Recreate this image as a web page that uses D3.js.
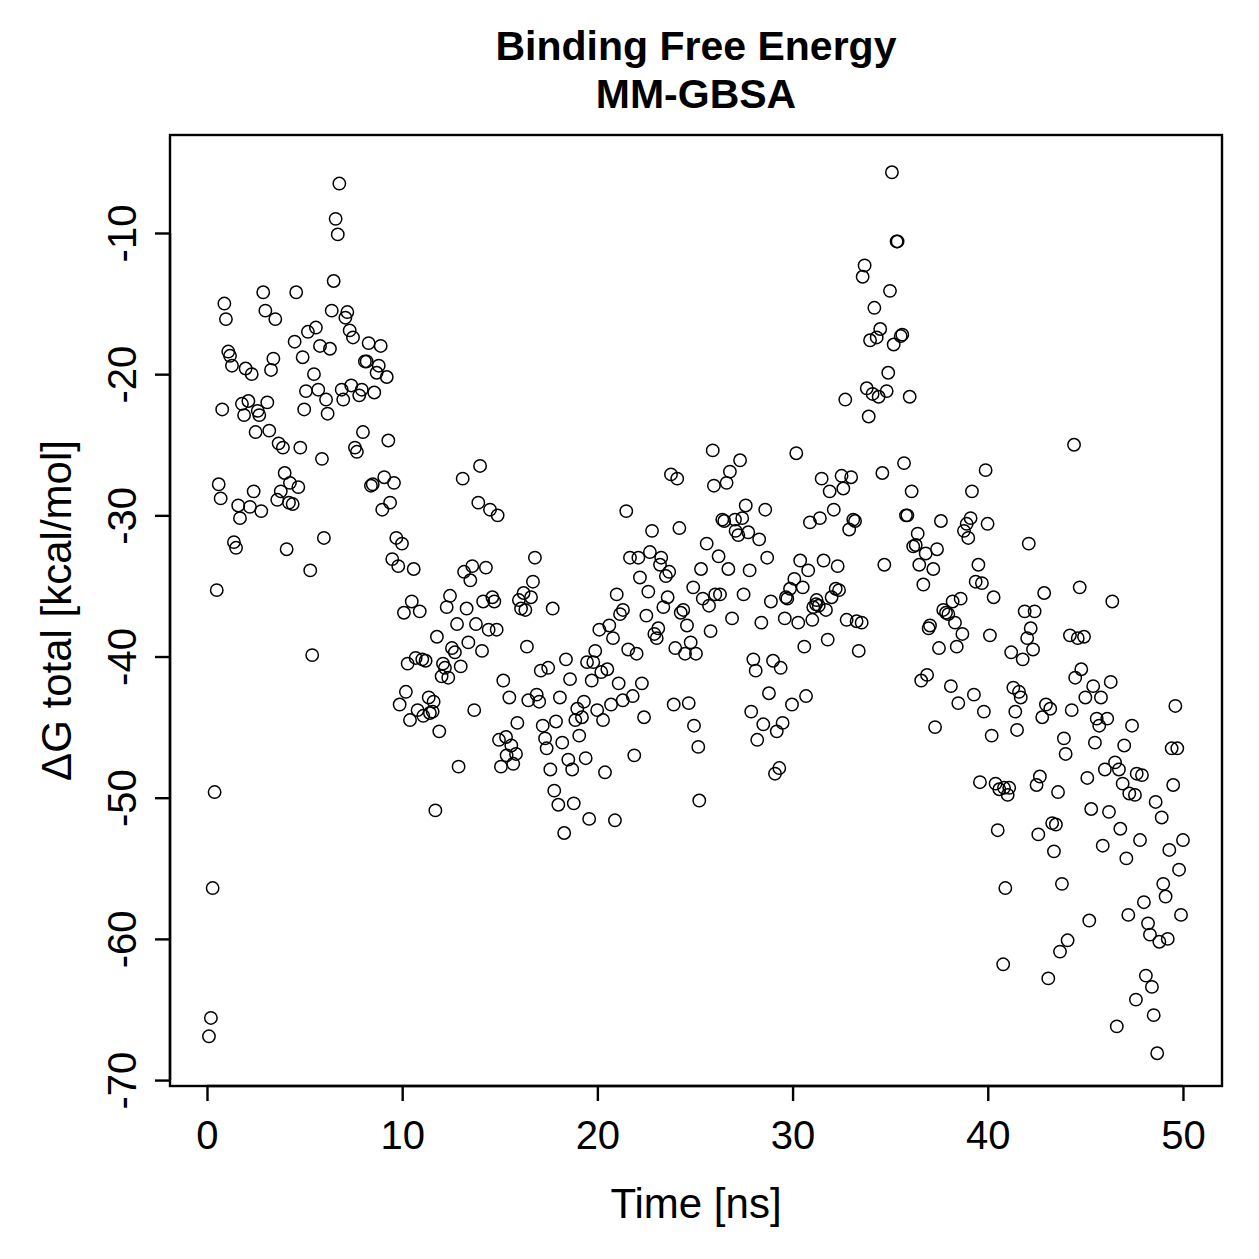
<!DOCTYPE html>
<html><head><meta charset="utf-8">
<script src="https://cdn.jsdelivr.net/npm/d3@7"></script>
<style>body{margin:0;background:#fff} svg{display:block} text{font-family:"Liberation Sans",Arial,Helvetica,sans-serif;fill:#000}</style>
</head><body><svg id="c" width="1259" height="1259"></svg>
<script>
const time = [0.10,0.20,0.29,0.39,0.50,0.60,0.70,0.78,0.89,0.97,1.09,1.18,1.28,1.38,1.49,1.60,1.69,1.79,1.90,1.98,2.12,2.20,2.29,2.39,2.49,2.60,2.68,2.78,2.88,2.99,3.09,3.19,3.28,3.40,3.50,3.60,3.67,3.78,3.89,3.98,4.08,4.20,4.25,4.39,4.49,4.57,4.68,4.78,4.90,4.98,5.07,5.17,5.29,5.39,5.48,5.58,5.70,5.79,5.89,5.99,6.10,6.18,6.30,6.39,6.49,6.59,6.70,6.78,6.90,6.98,7.09,7.19,7.31,7.39,7.48,7.58,7.68,7.80,7.93,7.99,8.09,8.18,8.28,8.40,8.49,8.57,8.69,8.80,8.90,8.98,9.08,9.21,9.29,9.38,9.49,9.58,9.70,9.80,9.87,9.99,10.09,10.19,10.28,10.40,10.49,10.59,10.69,10.79,10.90,11.03,11.08,11.20,11.36,11.42,11.56,11.61,11.70,11.78,11.90,12.02,12.09,12.19,12.28,12.36,12.45,12.55,12.70,12.81,12.89,13.00,13.10,13.17,13.30,13.39,13.49,13.59,13.69,13.78,13.90,13.99,14.09,14.15,14.29,14.43,14.50,14.62,14.72,14.84,14.89,14.96,15.06,15.18,15.32,15.35,15.49,15.59,15.69,15.83,15.90,15.98,16.09,16.22,16.31,16.39,16.46,16.60,16.70,16.80,16.89,17.02,17.10,17.20,17.32,17.40,17.48,17.59,17.71,17.79,17.88,18.00,18.08,18.20,18.30,18.39,18.51,18.60,18.71,18.79,18.87,18.97,19.07,19.21,19.31,19.40,19.47,19.58,19.71,19.79,19.89,19.99,20.10,20.20,20.29,20.39,20.51,20.61,20.70,20.80,20.90,20.99,21.09,21.16,21.30,21.31,21.48,21.58,21.67,21.81,21.89,22.01,22.10,22.18,22.28,22.39,22.51,22.61,22.69,22.80,22.92,23.04,23.12,23.21,23.27,23.38,23.51,23.60,23.68,23.77,23.91,23.99,24.09,24.20,24.27,24.40,24.49,24.59,24.68,24.78,24.91,24.95,25.05,25.17,25.22,25.31,25.40,25.60,25.72,25.80,25.91,25.97,26.04,26.21,26.28,26.40,26.50,26.62,26.71,26.79,26.90,27.05,27.08,27.22,27.31,27.42,27.49,27.60,27.73,27.80,27.88,27.99,28.11,28.19,28.29,28.40,28.50,28.60,28.70,28.79,28.89,29.00,29.10,29.19,29.32,29.39,29.49,29.60,29.66,29.73,29.87,29.97,30.09,30.19,30.29,30.39,30.52,30.60,30.69,30.80,30.89,31.01,31.06,31.20,31.23,31.34,31.40,31.49,31.59,31.71,31.80,31.90,32.00,32.11,32.21,32.31,32.38,32.51,32.60,32.70,32.77,32.90,33.00,33.11,33.20,33.28,33.39,33.54,33.59,33.69,33.80,33.90,33.97,34.10,34.19,34.31,34.41,34.49,34.60,34.70,34.82,34.90,34.99,35.09,35.18,35.33,35.38,35.54,35.62,35.71,35.81,35.88,36.00,36.10,36.18,36.31,36.41,36.49,36.59,36.70,36.82,36.89,36.97,37.04,37.21,37.30,37.40,37.50,37.60,37.72,37.86,37.98,38.11,38.20,38.32,38.41,38.49,38.61,38.70,38.78,38.92,39.00,39.12,39.19,39.29,39.38,39.52,39.60,39.70,39.80,39.89,39.99,40.11,40.20,40.30,40.40,40.51,40.59,40.79,40.83,40.90,41.02,41.10,41.20,41.31,41.41,41.50,41.60,41.69,41.79,41.89,42.02,42.10,42.20,42.32,42.40,42.50,42.59,42.67,42.79,42.89,42.98,43.10,43.20,43.30,43.39,43.49,43.60,43.70,43.80,43.90,43.99,44.09,44.21,44.30,44.42,44.48,44.61,44.71,44.79,44.93,45.00,45.10,45.20,45.30,45.40,45.49,45.58,45.71,45.80,45.89,46.00,46.12,46.21,46.30,46.38,46.52,46.61,46.72,46.79,46.91,46.99,47.10,47.20,47.25,47.39,47.54,47.59,47.63,47.80,47.90,48.00,48.10,48.21,48.31,48.41,48.50,48.60,48.68,48.79,48.91,48.99,49.11,49.22,49.30,49.42,49.50,49.61,49.71,49.80,49.90,50.00];
const dG = [-66.9,-65.6,-56.4,-49.6,-35.3,-27.8,-28.8,-22.5,-15.0,-16.1,-18.4,-18.7,-19.4,-31.9,-32.3,-29.3,-30.2,-22.1,-22.9,-19.6,-21.9,-29.4,-20.0,-28.3,-24.1,-22.6,-22.9,-29.7,-14.2,-15.5,-22.0,-24.0,-19.7,-18.9,-16.1,-28.9,-24.9,-28.3,-25.2,-27.0,-32.4,-29.1,-27.7,-29.2,-17.7,-14.2,-28.0,-25.2,-18.8,-22.5,-21.2,-17.0,-33.9,-39.9,-20.0,-16.7,-21.1,-18.0,-26.0,-31.6,-21.8,-22.8,-18.2,-15.5,-13.4,-9.0,-10.1,-6.5,-21.1,-21.8,-16.0,-15.6,-16.9,-20.8,-17.4,-25.2,-25.5,-21.5,-21.1,-24.1,-19.1,-19.1,-17.8,-27.9,-27.8,-21.3,-19.9,-19.4,-18.0,-29.6,-27.3,-20.2,-24.7,-29.1,-33.1,-27.7,-31.6,-33.6,-43.4,-32.0,-36.9,-42.5,-40.5,-44.5,-36.1,-33.8,-40.1,-43.8,-36.8,-40.2,-44.2,-40.3,-42.9,-44.0,-43.9,-43.2,-50.9,-38.6,-45.3,-41.4,-40.5,-40.8,-36.5,-41.5,-35.7,-39.4,-39.7,-37.7,-47.8,-40.7,-27.4,-34.0,-36.6,-39.0,-34.6,-33.6,-43.8,-37.7,-29.1,-26.5,-39.6,-36.1,-33.7,-38.1,-29.6,-35.8,-36.1,-38.1,-30.0,-45.9,-47.8,-41.7,-45.7,-47.0,-42.9,-46.3,-47.6,-46.9,-44.7,-36.0,-36.6,-35.5,-36.7,-39.3,-43.1,-35.8,-34.7,-33.0,-42.7,-43.2,-41.0,-44.9,-45.8,-46.5,-40.8,-48.0,-36.6,-49.5,-44.6,-50.5,-42.9,-46.1,-52.5,-40.2,-47.3,-41.6,-48.0,-50.4,-44.5,-43.7,-45.6,-44.3,-43.2,-47.2,-40.4,-51.5,-41.7,-40.4,-39.6,-43.8,-38.1,-41.1,-44.5,-48.2,-40.9,-37.8,-43.4,-38.7,-51.6,-35.6,-41.9,-37.0,-43.1,-36.7,-29.7,-39.5,-33.0,-42.8,-47.0,-39.8,-33.0,-34.4,-41.9,-44.3,-37.1,-35.4,-32.6,-31.1,-38.4,-38.7,-38.0,-33.5,-33.0,-36.5,-34.3,-35.8,-34.0,-27.1,-43.4,-39.4,-27.4,-30.9,-36.9,-36.7,-39.8,-37.8,-43.3,-39.0,-35.1,-44.9,-39.8,-46.4,-50.2,-33.8,-35.9,-32.0,-36.4,-38.2,-25.4,-27.9,-35.6,-32.9,-35.6,-30.3,-30.4,-27.7,-33.8,-26.9,-37.3,-30.3,-31.1,-31.4,-26.1,-30.2,-35.6,-29.3,-31.2,-33.9,-43.9,-40.2,-41.0,-45.9,-31.7,-37.6,-44.8,-29.6,-33.0,-42.6,-36.1,-40.3,-48.3,-45.3,-47.9,-40.8,-44.7,-37.3,-35.8,-35.9,-35.2,-43.4,-34.5,-25.6,-37.6,-33.2,-35.1,-39.3,-42.8,-33.9,-30.5,-37.4,-36.5,-36.3,-36.0,-36.4,-30.2,-27.4,-33.2,-36.7,-38.8,-28.3,-35.8,-29.6,-35.2,-33.6,-35.3,-27.2,-28.1,-21.8,-37.4,-31.0,-27.3,-30.3,-30.4,-37.5,-39.6,-37.6,-13.1,-12.3,-21.0,-23.0,-17.6,-21.4,-15.3,-17.4,-21.6,-16.8,-27.0,-33.5,-21.2,-19.9,-14.1,-5.7,-17.9,-10.6,-10.6,-17.3,-17.2,-26.3,-30.0,-30.0,-21.6,-28.3,-32.2,-32.1,-31.3,-33.5,-41.7,-34.9,-32.7,-41.3,-38.0,-37.8,-33.8,-45.0,-32.4,-39.4,-30.4,-36.7,-36.9,-37.0,-42.1,-36.1,-37.6,-39.3,-43.3,-35.9,-38.4,-31.1,-30.6,-31.6,-30.2,-28.3,-42.7,-34.7,-33.5,-48.9,-34.8,-43.9,-26.8,-30.6,-38.5,-45.6,-35.8,-49.0,-52.3,-49.4,-61.8,-49.3,-56.4,-49.8,-49.3,-39.7,-42.2,-43.9,-45.2,-42.5,-42.9,-40.2,-36.8,-38.7,-32.0,-38.0,-39.5,-36.8,-49.1,-52.6,-48.5,-44.3,-35.5,-43.4,-62.8,-43.7,-51.8,-53.8,-51.9,-49.6,-60.9,-56.1,-45.8,-46.9,-60.1,-38.5,-43.8,-25.0,-41.5,-38.7,-35.1,-40.9,-38.6,-42.9,-48.6,-58.7,-50.8,-42.1,-46.1,-44.4,-44.9,-42.9,-53.4,-48.0,-44.4,-51.0,-41.8,-36.1,-47.5,-66.2,-48.0,-52.2,-49.0,-46.3,-54.3,-58.3,-49.7,-44.9,-49.8,-64.3,-48.3,-53.0,-48.4,-57.4,-62.6,-58.9,-59.7,-63.4,-65.4,-50.3,-68.1,-60.2,-51.4,-56.1,-57.0,-60.0,-53.7,-46.5,-49.1,-43.5,-46.5,-55.1,-58.3,-53.0];
const xTicks = [0, 10, 20, 30, 40, 50];
const yTicks = [-70, -60, -50, -40, -30, -20, -10];
const titleLines = ["Binding Free Energy", "MM-GBSA"];
const xLabel = "Time [ns]";
const yLabel = "\u0394G total [kcal/mol]";

const svg = d3.select("#c");
const L = 170, R = 1222, T = 135, B = 1086;
const x = d3.scaleLinear().domain([-1.895, 52.0]).range([L, R]);
const y = d3.scaleLinear().domain([-70.42, -3.06]).range([B, T]);
const data = time.map((t, i) => ({t, g: dG[i]}));
const FONT = '"Liberation Sans",Arial,Helvetica,sans-serif';

svg.append("rect").attr("width", 1259).attr("height", 1259).attr("fill", "#fff");

// points
svg.append("g").selectAll("circle").data(data).join("circle")
  .attr("cx", d => x(d.t)).attr("cy", d => y(d.g)).attr("r", 6.2)
  .attr("fill", "none").attr("stroke", "#000").attr("stroke-width", 1.5);

// box
svg.append("rect").attr("x", L).attr("y", T).attr("width", R - L).attr("height", B - T)
  .attr("fill", "none").attr("stroke", "#000").attr("stroke-width", 2.4);

// x axis
const gx = svg.append("g").attr("transform", `translate(0,${B})`)
  .call(d3.axisBottom(x).tickValues(xTicks).tickSize(15).tickPadding(20).tickFormat(d => String(d)));
gx.select(".domain").attr("d", `M${x(0)},0H${x(50)}`).attr("stroke-width", 2.4);
gx.selectAll(".tick line").attr("stroke-width", 2.4);
gx.selectAll(".tick text").attr("font-size", 40).attr("font-family", FONT);

// y axis
const gy = svg.append("g").attr("transform", `translate(${L},0)`)
  .call(d3.axisLeft(y).tickValues(yTicks).tickSize(15).tickFormat(d => String(d)));
gy.select(".domain").attr("d", `M0,${y(-70)}V${y(-10)}`).attr("stroke-width", 2.4);
gy.selectAll(".tick line").attr("stroke-width", 2.4);
gy.selectAll(".tick text")
  .attr("x", null).attr("dy", null)
  .attr("transform", "translate(-34,0) rotate(-90)")
  .attr("text-anchor", "middle")
  .attr("font-size", 40).attr("font-family", FONT);

// titles
svg.append("g").selectAll("text").data(titleLines).join("text")
  .attr("x", (L + R) / 2).attr("y", (d, i) => 60 + i * 48)
  .attr("text-anchor", "middle").attr("font-weight", "bold").attr("font-size", 41)
  .text(d => d);

svg.append("text").attr("x", (L + R) / 2).attr("y", 1218)
  .attr("text-anchor", "middle").attr("font-size", 42).text(xLabel);

svg.append("text").attr("transform", `translate(71,${(T + B) / 2}) rotate(-90)`)
  .attr("text-anchor", "middle").attr("font-size", 42).text(yLabel);
</script></body></html>
